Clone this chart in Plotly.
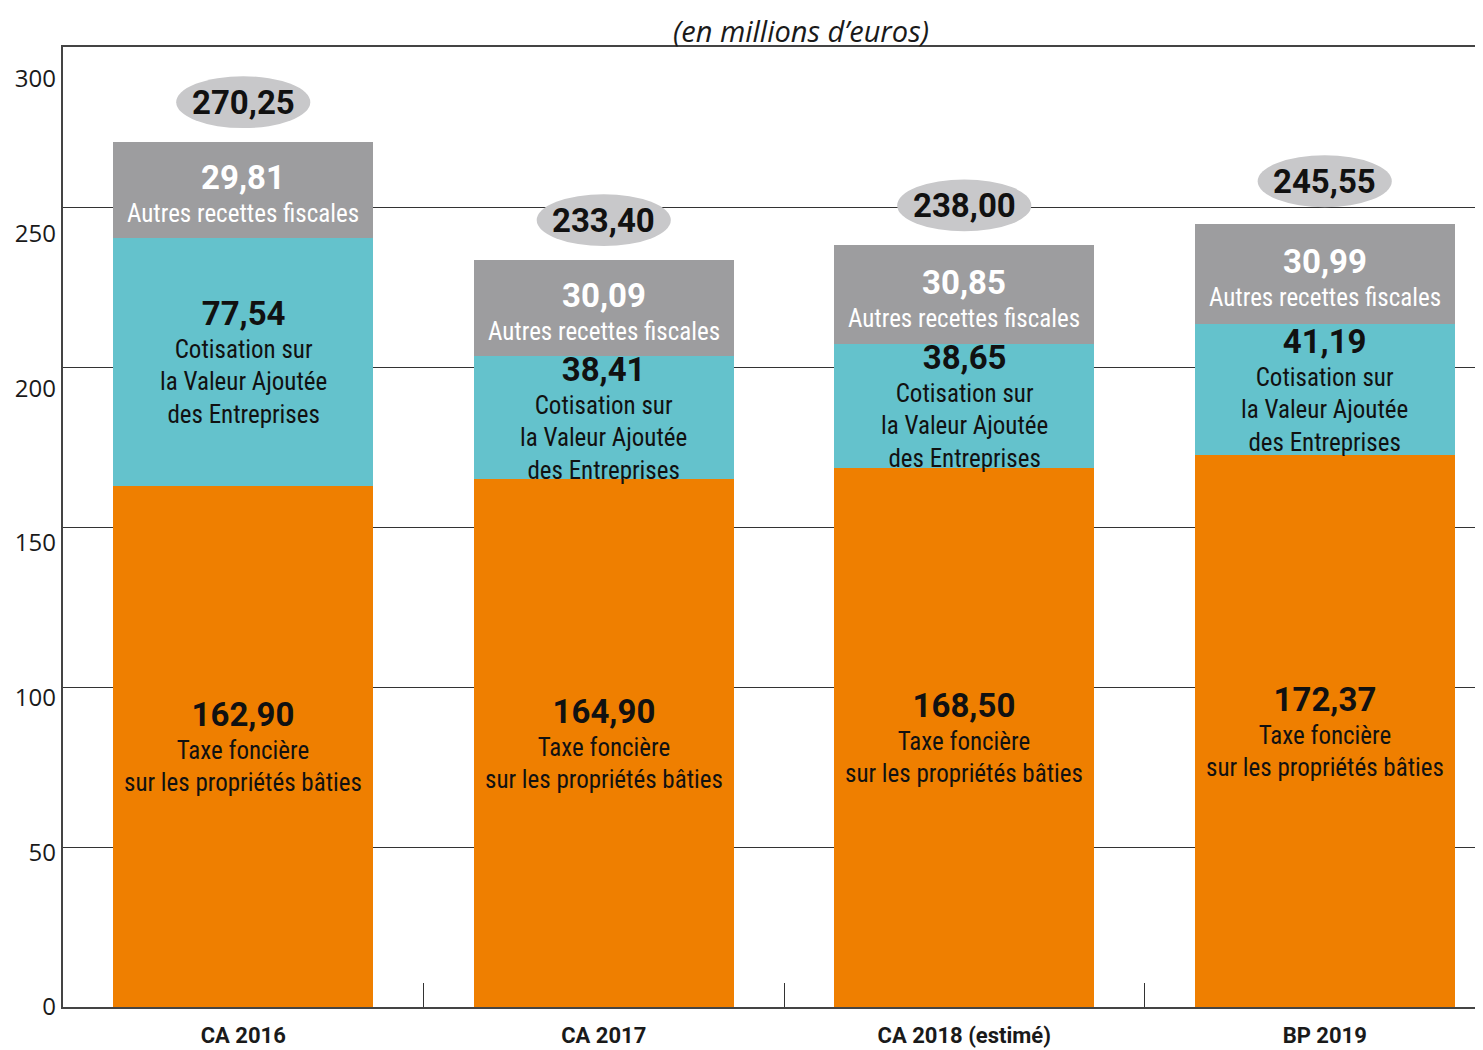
import plotly.graph_objects as go

categories = ["CA 2016", "CA 2017", "CA 2018 (estimé)", "BP 2019"]
taxe_fonciere = [162.90, 164.90, 168.50, 172.37]
cvae = [77.54, 38.41, 38.65, 41.19]
autres = [29.81, 30.09, 30.85, 30.99]
totals = [270.25, 233.40, 238.00, 245.55]
y_ticks = [0, 50, 100, 150, 200, 250, 300]

label_tf = "Taxe foncière<br>sur les propriétés bâties"
label_cvae = "Cotisation sur<br>la Valeur Ajoutée<br>des Entreprises"
label_autres = "Autres recettes fiscales"

FONT = "Liberation Sans Narrow, Roboto Condensed, Roboto, sans-serif"
NUMFONT = "Roboto, Open Sans, sans-serif"
AXFONT = "Open Sans, Noto Sans, sans-serif"
TITLEFONT = "Open Sans, Lato, sans-serif"
ORANGE = "#EF7F00"
TEAL = "#64C2CC"
GREY = "#9D9D9F"
ELLIPSE = "#C8C8CA"


def fr(v):
    return f"{v:.2f}".replace(".", ",")


def num(v):
    return (f"<span style='font-size:33px;font-family:{NUMFONT}'>"
            f"<b>{fr(v)}</b></span>")


fig = go.Figure()
fig.add_bar(x=categories, y=taxe_fonciere, marker=dict(color=ORANGE, line=dict(width=0)),
            name="Taxe foncière", hoverinfo="skip")
fig.add_bar(x=categories, y=cvae, marker=dict(color=TEAL, line=dict(width=0)),
            name="CVAE", hoverinfo="skip")
fig.add_bar(x=categories, y=autres, marker=dict(color=GREY, line=dict(width=0)),
            name="Autres", hoverinfo="skip")
# invisible trace to carry the label axis
fig.add_scatter(x=categories, y=[None] * len(categories), yaxis="y2", showlegend=False,
                hoverinfo="skip")

annotations = []
shapes = []
for i, c in enumerate(categories):
    tf, cv, au = taxe_fonciere[i], cvae[i], autres[i]
    annotations.append(dict(
        x=c, y=tf / 2, xref="x", yref="y", showarrow=False,
        text=f"{num(tf)}<br>{label_tf}",
        font=dict(family=FONT, size=25, color="#111111"), align="center"))
    annotations.append(dict(
        x=c, y=tf + cv / 2, xref="x", yref="y", showarrow=False,
        text=f"{num(cv)}<br>{label_cvae}",
        font=dict(family=FONT, size=25, color="#111111"), align="center"))
    annotations.append(dict(
        x=c, y=tf + cv + au / 2, xref="x", yref="y", showarrow=False, yshift=-3,
        text=f"{num(au)}<br>{label_autres}",
        font=dict(family=FONT, size=25, color="white"), align="center"))
    # total bubble
    yc = totals[i] + 12.5
    shapes.append(dict(type="circle", xref="x", yref="y",
                       x0=i - 0.186, x1=i + 0.186, y0=yc - 8.1, y1=yc + 8.1,
                       fillcolor=ELLIPSE, line=dict(width=0), layer="above"))
    annotations.append(dict(
        x=c, y=yc, xref="x", yref="y", showarrow=False,
        text=f"<b>{fr(totals[i])}</b>",
        font=dict(family=NUMFONT, size=33, color="#111111")))

annotations.append(dict(
    x=0.52, y=1, xref="paper", yref="paper", xanchor="center", yanchor="bottom",
    showarrow=False, yshift=-5,
    text="<i>(en millions d’euros)</i>",
    font=dict(family=TITLEFONT, size=29, color="#1a1a1a")))

# the page places the figure 8px from the top-left corner of the window
fig.update_layout(
    width=1475, height=1042,
    margin=dict(l=55, r=0, t=39, b=43, autoexpand=False),
    paper_bgcolor="white", plot_bgcolor="white",
    barmode="stack", bargap=0.279,
    showlegend=False,
    font=dict(family=FONT, size=22, color="#1a1a1a"),
    xaxis=dict(
        type="category", categoryorder="array", categoryarray=categories,
        range=[-0.5, 3.439], automargin=False,
        showline=True, mirror=True, linecolor="#444444", linewidth=1.5,
        showgrid=False, zeroline=False,
        ticks="inside", tickson="boundaries", ticklen=24, tickwidth=1, tickcolor="#333333",
        tickfont=dict(family=NUMFONT, size=22, color="#1a1a1a", weight="bold"),
        ticklabelstandoff=8,
    ),
    yaxis=dict(
        range=[0, 300], showgrid=True, gridcolor="#333333", gridwidth=1,
        showticklabels=False, ticks="", dtick=50, automargin=False,
        showline=True, linecolor="#444444", linewidth=1.5, zeroline=False,
    ),
    yaxis2=dict(
        overlaying="y", side="left", range=[0, 310.3], automargin=False,
        tickmode="array", tickvals=y_ticks, ticktext=[str(v) for v in y_ticks],
        showgrid=False, zeroline=False, showline=False, ticks="",
        ticklabelstandoff=6,
        tickfont=dict(family=AXFONT, size=24, color="#1a1a1a"),
    ),
    annotations=annotations,
    shapes=shapes,
)

fig.write_html("out.html")
